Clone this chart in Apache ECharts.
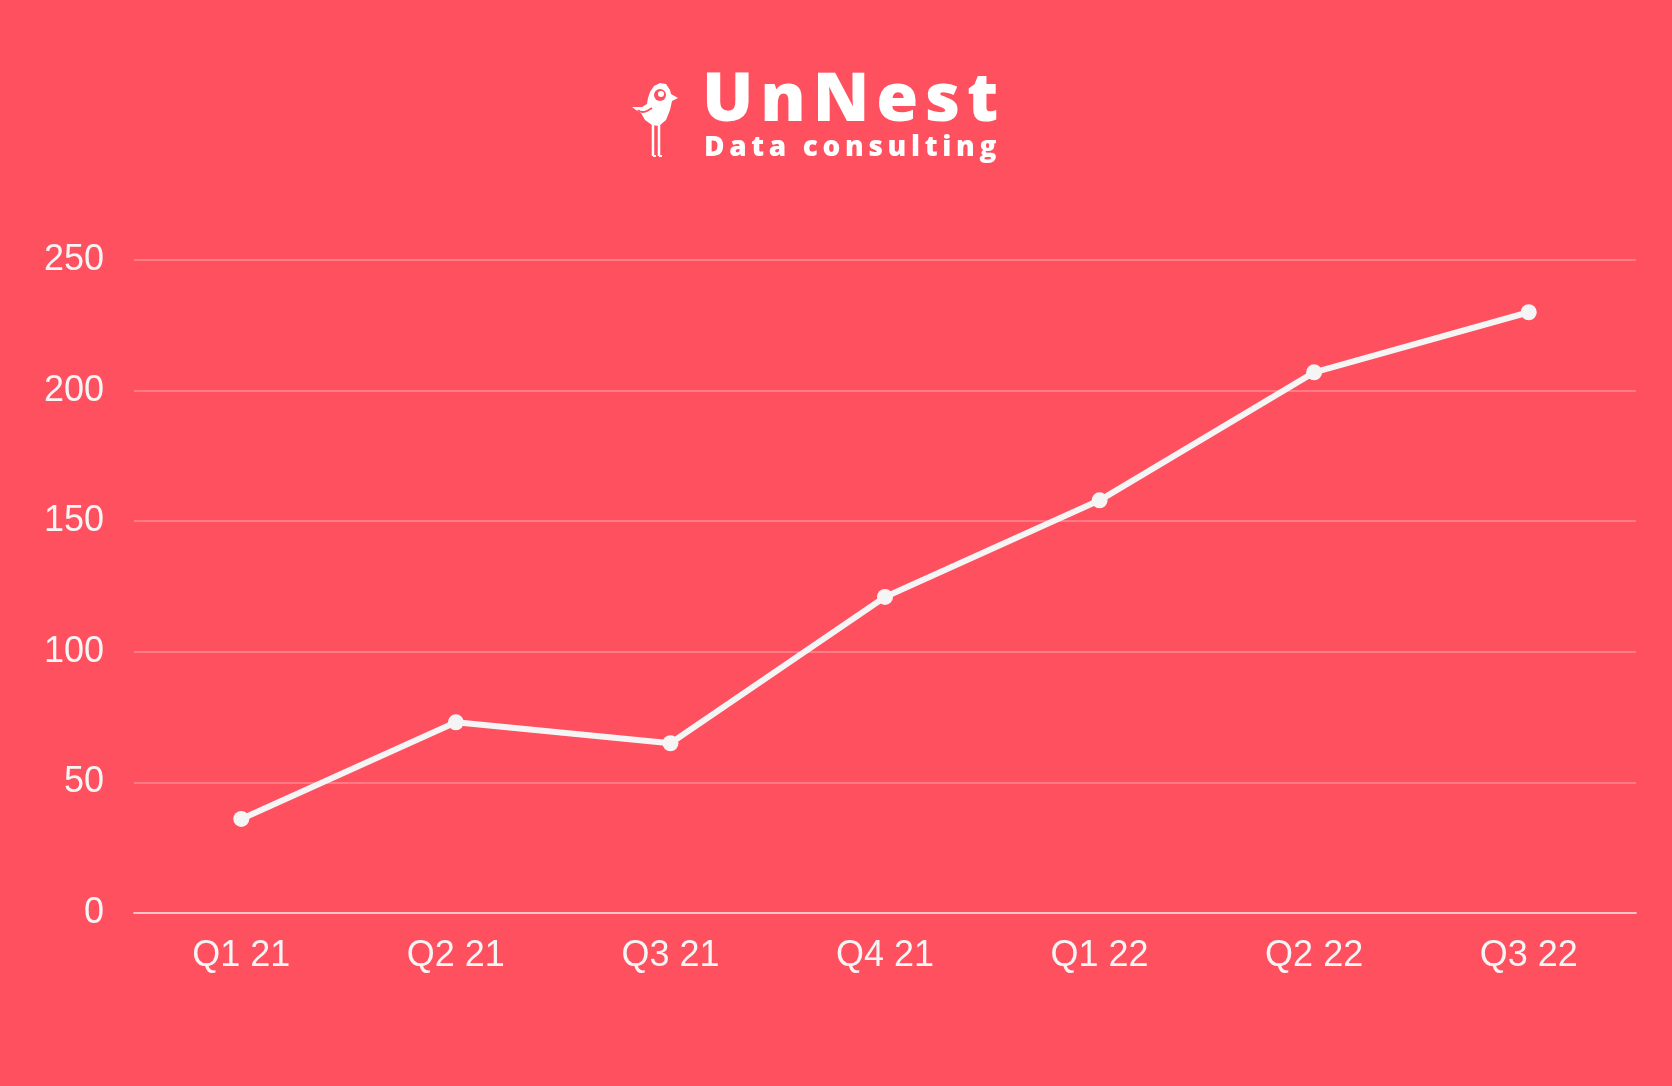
<!DOCTYPE html>
<html>
<head>
<meta charset="utf-8">
<style>
html,body{margin:0;padding:0;background:#FF505F;}
#chart{width:1672px;height:1086px;}
</style>
<script src="https://cdn.jsdelivr.net/npm/echarts@6/dist/echarts.min.js"></script>
</head>
<body>
<div id="chart"></div>
<script>
const categories = ['Q1 21','Q2 21','Q3 21','Q4 21','Q1 22','Q2 22','Q3 22'];
const values = [36, 73, 65, 121, 158, 207, 230];
const yTicks = [0, 50, 100, 150, 200, 250];

const chart = echarts.init(document.getElementById('chart'));
const white = '#F5F5F5';
const bg = '#FF505F';
chart.setOption({
  backgroundColor: bg,
  animation: false,
  grid: {left: 134, right: 36, top: 260, bottom: 173},
  xAxis: {
    type: 'category',
    data: categories,
    boundaryGap: true,
    axisLine: {show: true, lineStyle: {color: 'rgba(255,255,255,0.55)', width: 2}},
    axisTick: {show: false},
    axisLabel: {color: white, fontSize: 36, fontFamily: 'Liberation Sans, Arial', margin: 25}
  },
  yAxis: {
    type: 'value',
    min: yTicks[0],
    max: yTicks[yTicks.length - 1],
    interval: 50,
    axisLine: {show: false},
    axisTick: {show: false},
    splitLine: {lineStyle: {color: 'rgba(255,255,255,0.25)', width: 2}},
    axisLabel: {color: white, fontSize: 36, fontFamily: 'Liberation Sans, Arial', margin: 30}
  },
  series: [{
    type: 'line',
    data: values,
    symbol: 'circle',
    symbolSize: 16,
    lineStyle: {color: white, width: 6},
    itemStyle: {color: white}
  }],
  graphic: [
    {type: 'text', x: 702, y: 68, style: {text: 'UnNest'.split('').join('\u200A'), fill: '#FFFFFF', font: '800 68px "Open Sans", Lato, sans-serif'}},
    {type: 'text', x: 704, y: 134, style: {text: 'Data consulting'.split('').join('\u2009'), fill: '#FFFFFF', font: '800 28px "Open Sans", Lato, sans-serif'}},
    {type: 'polygon', x: 632, y: 82, shape: {points: [[18,10],[22,4],[28,1],[34,2],[38,8],[39,12],[46,16],[40,19],[38,28],[34,38],[27,44],[20,43],[13,38],[9,31],[4,28],[0,25],[10,25],[15,22],[16,16]]}, style: {fill: '#FFFFFF'}},
    {type: 'circle', x: 632, y: 82, shape: {cx: 28, cy: 13, r: 6}, style: {fill: bg}},
    {type: 'circle', x: 632, y: 82, shape: {cx: 29, cy: 12, r: 3}, style: {fill: '#FFFFFF'}},
    {type: 'bezierCurve', x: 632, y: 82, shape: {x1: 6, y1: 28, cpx1: 10, cpy1: 33, x2: 20, y2: 26}, style: {stroke: bg, lineWidth: 2, fill: null}},
    {type: 'line', x: 632, y: 82, shape: {x1: 21, y1: 42, x2: 21, y2: 74}, style: {stroke: '#FFFFFF', lineWidth: 2.5}},
    {type: 'line', x: 632, y: 82, shape: {x1: 27, y1: 42, x2: 27, y2: 74}, style: {stroke: '#FFFFFF', lineWidth: 2.5}},
    {type: 'line', x: 632, y: 82, shape: {x1: 21, y1: 74, x2: 24, y2: 74}, style: {stroke: '#FFFFFF', lineWidth: 2}},
    {type: 'line', x: 632, y: 82, shape: {x1: 27, y1: 74, x2: 30, y2: 74}, style: {stroke: '#FFFFFF', lineWidth: 2}}
  ]
});
</script>
</body>
</html>
